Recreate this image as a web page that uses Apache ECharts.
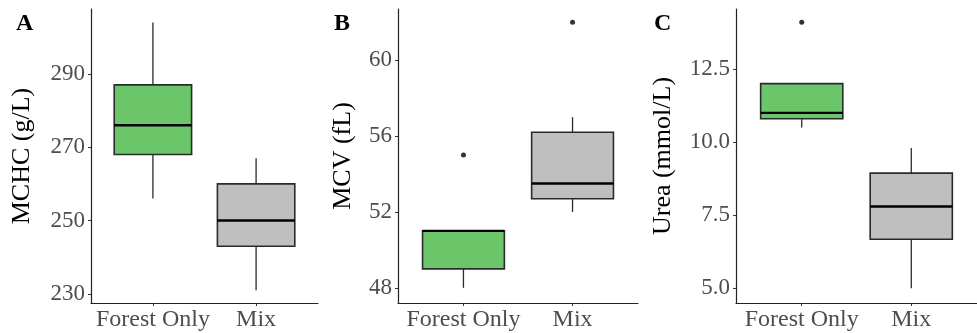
<!DOCTYPE html>
<html>
<head>
<meta charset="utf-8">
<script src="https://cdn.jsdelivr.net/npm/echarts@6/dist/echarts.min.js"></script>
<style>html,body{margin:0;padding:0;background:#fff;}#c{width:977px;height:333px;}</style>
</head>
<body>
<div id="c"></div>
<script>
// ---- data ----
const categories = ['Forest Only', 'Mix'];
// [min, Q1, median, Q3, max]
const mchcForest = [256, 268, 276, 287, 304];
const mchcMix = [231, 243, 250, 260, 267];
const mchcOutliers = [];
const mcvForest = [48, 49, 51, 51, 51];
const mcvMix = [52, 52.7, 53.5, 56.2, 57];
const mcvOutliers = [[1, 55], [2, 62]];
const ureaForest = [10.5, 10.8, 11.0, 12.0, 12.0];
const ureaMix = [5.0, 6.68, 7.8, 8.94, 9.8];
const ureaOutliers = [[1, 14.1]];
const mchcTicks = [230, 250, 270, 290];
const mcvTicks = [48, 52, 56, 60];
const ureaTicks = [5.0, 7.5, 10.0, 12.5];
const panelLetters = ['A', 'B', 'C'];
const yTitles = ['MCHC (g/L)', 'MCV (fL)', 'Urea (mmol/L)'];

// ---- styling ----
const FONT = 'Liberation Serif';
const fills = ['#6bc66a', '#bfbfbf'];
const grids = [
  {left: 91, right: 659, top: 9, bottom: 30},
  {left: 398, right: 339, top: 9, bottom: 30},
  {left: 736, right: -11, top: 9, bottom: 30}
];
const yRanges = [[227.5, 307.7], [47.2, 62.7], [4.5, 14.55]];
const nameGaps = [56, 42, 60];
const panels = [
  {boxes: [mchcForest, mchcMix], outliers: mchcOutliers, ticks: mchcTicks, dec: 0},
  {boxes: [mcvForest, mcvMix], outliers: mcvOutliers, ticks: mcvTicks, dec: 0},
  {boxes: [ureaForest, ureaMix], outliers: ureaOutliers, ticks: ureaTicks, dec: 1}
];

const option = {
  animation: false,
  backgroundColor: '#fff',
  grid: grids.map(g => Object.assign({containLabel: false}, g)),
  xAxis: panels.map((p, i) => ({
    type: 'value', gridIndex: i, min: 0.4, max: 2.6,
    splitLine: {show: false},
    axisLine: {show: true, lineStyle: {color: '#222', width: 1.2}},
    axisTick: {show: true, customValues: [1, 2], length: 3, lineStyle: {color: '#333'}},
    axisLabel: {show: true, customValues: [1, 2], margin: 5,
      formatter: v => categories[Math.round(v) - 1] || '',
      color: '#4d4d4d', fontFamily: FONT, fontSize: 24}
  })),
  yAxis: panels.map((p, i) => ({
    type: 'value', gridIndex: i, min: yRanges[i][0], max: yRanges[i][1],
    name: yTitles[i], nameLocation: 'middle', nameGap: nameGaps[i],
    nameTextStyle: {color: '#000', fontFamily: FONT, fontSize: 26},
    splitLine: {show: false},
    axisLine: {show: true, lineStyle: {color: '#222', width: 1.2}},
    axisTick: {show: true, customValues: p.ticks, length: 3, lineStyle: {color: '#333'}},
    axisLabel: {show: true, customValues: p.ticks, margin: 6,
      formatter: v => v.toFixed(p.dec),
      color: '#4d4d4d', fontFamily: FONT, fontSize: 23}
  })),
  graphic: panelLetters.map((t, i) => ({
    type: 'text', left: [16, 334, 654][i], top: 12,
    style: {text: t, font: 'bold 24px "Liberation Serif"', fill: '#000'}
  })),
  series: []
};

panels.forEach((p, i) => {
  option.series.push({
    type: 'custom', xAxisIndex: i, yAxisIndex: i,
    data: p.boxes.map((b, k) => [k + 1].concat(b)),
    encode: {x: 0, y: [1, 2, 3, 4, 5]},
    renderItem: function (params, api) {
      const x = api.value(0);
      const mn = api.value(1), q1 = api.value(2), md = api.value(3), q3 = api.value(4), mx = api.value(5);
      const c = (xx, yy) => api.coord([xx, yy]);
      const left = c(x - 0.375, q3), right = c(x + 0.375, q1);
      const children = [];
      if (mx > q3) {
        const a = c(x, q3), b = c(x, mx);
        children.push({type: 'line', shape: {x1: a[0], y1: a[1], x2: b[0], y2: b[1]}, style: {stroke: '#2a2a2a', lineWidth: 1.3}});
      }
      if (mn < q1) {
        const a = c(x, q1), b = c(x, mn);
        children.push({type: 'line', shape: {x1: a[0], y1: a[1], x2: b[0], y2: b[1]}, style: {stroke: '#2a2a2a', lineWidth: 1.3}});
      }
      children.push({type: 'rect', shape: {x: left[0], y: left[1], width: right[0] - left[0], height: right[1] - left[1]},
        style: {fill: fills[params.dataIndex], stroke: '#2a2a2a', lineWidth: 1.6}});
      const m1 = c(x - 0.375, md), m2 = c(x + 0.375, md);
      children.push({type: 'line', shape: {x1: m1[0], y1: m1[1], x2: m2[0], y2: m2[1]}, style: {stroke: '#000', lineWidth: 2.4}});
      return {type: 'group', children: children};
    },
    silent: true
  });
  option.series.push({
    type: 'scatter', xAxisIndex: i, yAxisIndex: i,
    data: p.outliers, symbol: 'circle', symbolSize: 5,
    itemStyle: {color: '#000'}, silent: true
  });
});

const chart = echarts.init(document.getElementById('c'), null, {renderer: 'canvas'});
chart.setOption(option);
</script>
</body>
</html>
